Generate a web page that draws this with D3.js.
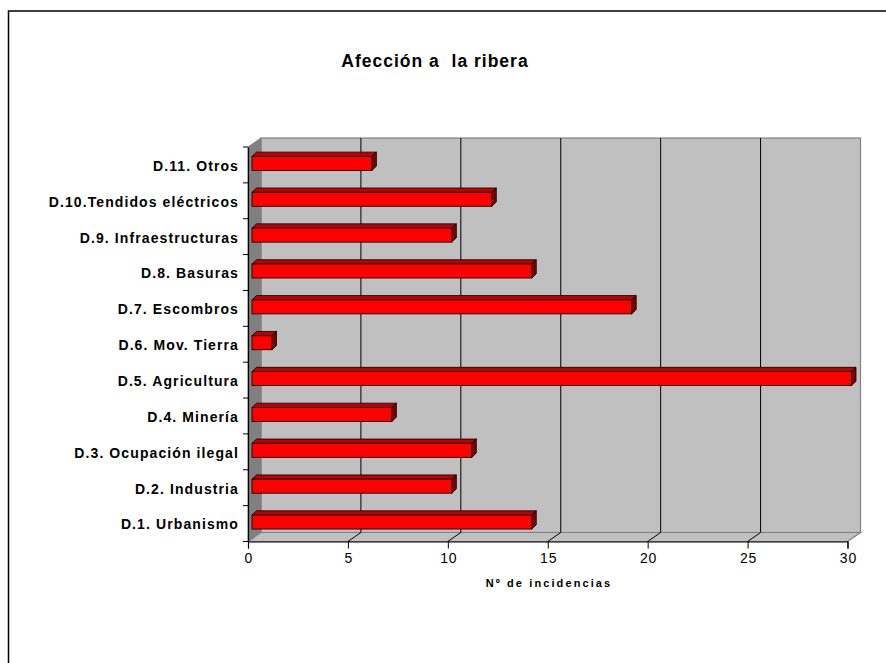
<!DOCTYPE html>
<html>
<head>
<meta charset="utf-8">
<script src="https://cdn.jsdelivr.net/npm/d3@7/dist/d3.min.js"></script>
<style>
  html, body { margin: 0; padding: 0; background: #fff; }
  svg { display: block; }
  text { font-family: Arial, "Liberation Sans", sans-serif; fill: #000; }
  .keep-space { white-space: pre; }
</style>
</head>
<body>
<script>
// Categories (bottom to top) and number of incidences per category
const categories = [
  "D.1. Urbanismo",
  "D.2. Industria",
  "D.3. Ocupación ilegal",
  "D.4. Minería",
  "D.5. Agricultura",
  "D.6. Mov. Tierra",
  "D.7. Escombros",
  "D.8. Basuras",
  "D.9. Infraestructuras",
  "D.10.Tendidos eléctricos",
  "D.11. Otros"
];
const incidencias = [14, 10, 11, 7, 30, 1, 19, 14, 10, 12, 6];
const xTicks = [0, 5, 10, 15, 20, 25, 30];
const chartTitle = "Afección a  la ribera";
const xTitle = "Nº de incidencias";

const W = 886, H = 663;
const svg = d3.select("body").append("svg").attr("width", W).attr("height", H);

// outer chart frame
svg.append("rect")
  .attr("x", 8.5).attr("y", 11).attr("width", 1000).attr("height", 1000)
  .attr("fill", "none").attr("stroke", "#000").attr("stroke-width", 1.5);

// front plane of the 3D box and its depth offset
const front = { left: 248, right: 847.5, top: 147, bottom: 541.5 };
const depth = { dx: 13, dy: -9 };

const x = d3.scaleLinear().domain([0, 30]).range([front.left, front.right]);
const y = d3.scaleBand()
  .domain(categories.slice().reverse())
  .range([front.top, front.bottom])
  .paddingInner(0).paddingOuter(0);

const g = svg.append("g");

// back wall
g.append("rect")
  .attr("x", front.left + depth.dx).attr("y", front.top + depth.dy)
  .attr("width", front.right - front.left).attr("height", front.bottom - front.top)
  .attr("fill", "#c0c0c0").attr("stroke", "#808080").attr("stroke-width", 1.2);

// side wall (left)
g.append("polygon")
  .attr("points", [
    [front.left, front.top],
    [front.left + depth.dx, front.top + depth.dy],
    [front.left + depth.dx, front.bottom + depth.dy],
    [front.left, front.bottom]
  ].map(p => p.join(",")).join(" "))
  .attr("fill", "#808080").attr("stroke", "#808080").attr("stroke-width", 1);

// floor
g.append("polygon")
  .attr("points", [
    [front.left, front.bottom],
    [front.right, front.bottom],
    [front.right + depth.dx, front.bottom + depth.dy],
    [front.left + depth.dx, front.bottom + depth.dy]
  ].map(p => p.join(",")).join(" "))
  .attr("fill", "#c0c0c0").attr("stroke", "#808080").attr("stroke-width", 1.2);

// gridlines on back wall and floor
const inner = xTicks.filter(t => t > 0 && t < 30);
g.selectAll(".grid").data(inner).join("line")
  .attr("x1", d => x(d) + depth.dx).attr("x2", d => x(d) + depth.dx)
  .attr("y1", front.top + depth.dy).attr("y2", front.bottom + depth.dy)
  .attr("stroke", "#000").attr("stroke-width", 1);
g.selectAll(".floorgrid").data(inner).join("line")
  .attr("x1", d => x(d)).attr("y1", front.bottom)
  .attr("x2", d => x(d) + depth.dx).attr("y2", front.bottom + depth.dy)
  .attr("stroke", "#000").attr("stroke-width", 1);

// bars: front face, top face, right face
const barShift = { dx: 4, dy: -1 };
const barDepth = { dx: 4.5, dy: -4.3 };
const barH = 14;
const bars = g.selectAll(".bar").data(categories.map((c, i) => ({ c, v: incidencias[i] })))
  .join("g");

bars.each(function (d) {
  const sel = d3.select(this);
  const x0 = x(0) + barShift.dx;
  const x1 = x(d.v) + barShift.dx;
  const yc = y(d.c) + y.bandwidth() / 2 + barShift.dy - 0.5;
  const y0 = yc - barH / 2, y1 = yc + barH / 2;
  const pts = a => a.map(p => p.join(",")).join(" ");
  sel.append("polygon")
    .attr("points", pts([[x0, y0], [x0 + barDepth.dx, y0 + barDepth.dy], [x1 + barDepth.dx, y0 + barDepth.dy], [x1, y0]]))
    .attr("fill", "#c00000").attr("stroke", "#000").attr("stroke-width", 0.8).attr("stroke-linejoin", "round");
  sel.append("polygon")
    .attr("points", pts([[x1, y0], [x1 + barDepth.dx, y0 + barDepth.dy], [x1 + barDepth.dx, y1 + barDepth.dy], [x1, y1]]))
    .attr("fill", "#800000").attr("stroke", "#000").attr("stroke-width", 0.8).attr("stroke-linejoin", "round");
  sel.append("rect")
    .attr("x", x0).attr("y", y0).attr("width", x1 - x0).attr("height", barH)
    .attr("fill", "#ff0000").attr("stroke", "#000").attr("stroke-width", 0.8);
});

// value axis
const xAxis = d3.axisBottom(x).tickValues(xTicks).tickSize(7).tickPadding(5);
const xg = svg.append("g").attr("transform", `translate(0,${front.bottom})`).call(xAxis);
xg.select(".domain").attr("stroke", "#000").attr("stroke-width", 1.2);
xg.selectAll(".tick line").attr("stroke", "#000").attr("stroke-width", 1);
xg.selectAll(".tick text")
  .attr("font-size", "14px").attr("letter-spacing", "0.8px")
  .attr("font-family", "Arial, 'Liberation Sans', sans-serif")
  .attr("fill", "#000").attr("dx", "0.4");

// category axis
const yAxis = d3.axisLeft(y).tickSize(0).tickPadding(9);
const yg = svg.append("g").attr("transform", `translate(${front.left},0)`).call(yAxis);
yg.select(".domain").attr("stroke", "#000").attr("stroke-width", 1.2);
yg.selectAll(".tick text")
  .attr("font-size", "14px").attr("font-weight", "bold").attr("letter-spacing", "1.1px")
  .attr("font-family", "Arial, 'Liberation Sans', sans-serif")
  .attr("fill", "#000").attr("dy", "0.42em");
// tick marks at category boundaries
const bounds = categories.map(c => y(c)).concat([front.bottom]);
yg.selectAll(".bound").data(bounds).join("line")
  .attr("x1", -5).attr("x2", 0)
  .attr("y1", d => d).attr("y2", d => d)
  .attr("stroke", "#000").attr("stroke-width", 1);

// titles
svg.append("text")
  .attr("class", "keep-space")
  .attr("x", 435).attr("y", 66.5).attr("text-anchor", "middle")
  .attr("font-size", "17.5px").attr("font-weight", "bold").attr("letter-spacing", "1px")
  .text(chartTitle);

svg.append("text")
  .attr("x", 549).attr("y", 586.5).attr("text-anchor", "middle")
  .attr("font-size", "11px").attr("font-weight", "bold").attr("letter-spacing", "2.1px")
  .text(xTitle);
</script>
</body>
</html>
